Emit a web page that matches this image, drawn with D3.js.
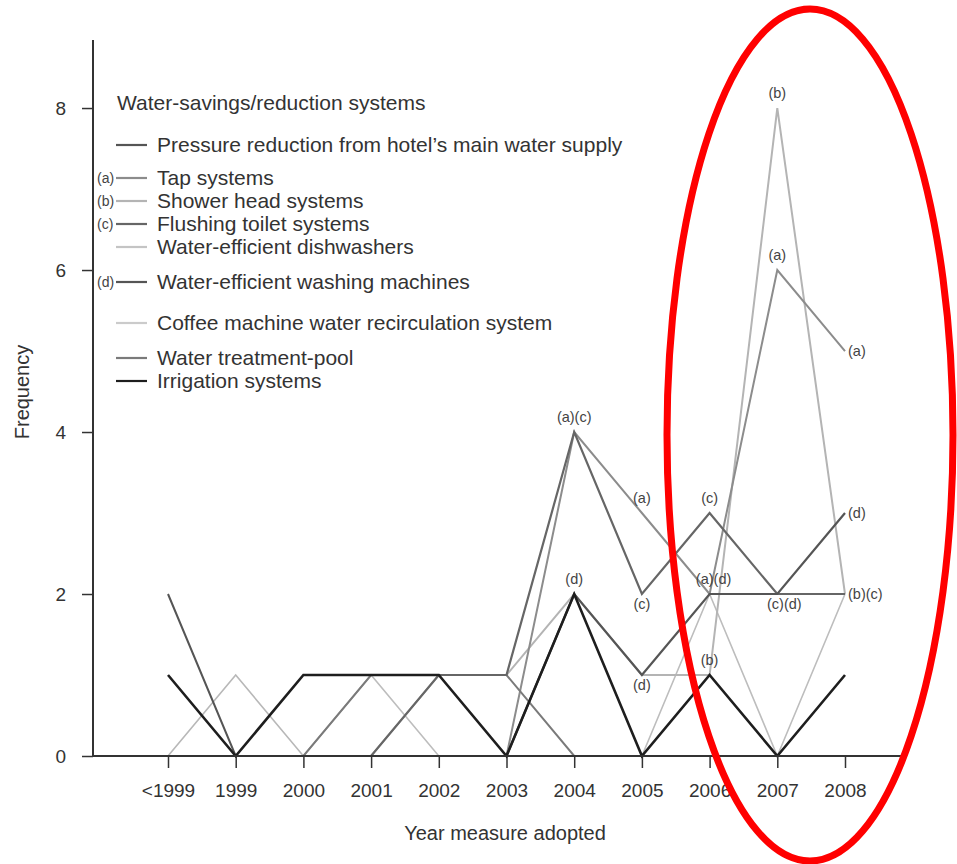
<!DOCTYPE html>
<html>
<head>
<meta charset="utf-8">
<script src="https://cdn.jsdelivr.net/npm/d3@7"></script>
<style>
  body { margin: 0; background: #fff; }
  text { font-family: "Liberation Sans", Arial, sans-serif; }
</style>
</head>
<body>
<div id="viz"></div>
<script>
// categories on the x axis
var years = ["<1999", "1999", "2000", "2001", "2002", "2003", "2004", "2005", "2006", "2007", "2008"];
var yTicks = [0, 2, 4, 6, 8];

// frequency per year, one array per measure
var pressure    = [2, 0, 0, 0, 0, 0, 0, 0, 0, 0, 0];
var tap         = [0, 0, 0, 0, 0, 0, 4, 3, 2, 6, 5];
var shower      = [0, 0, 0, 0, 1, 1, 2, 1, 1, 8, 2];
var flushing    = [0, 0, 0, 0, 1, 1, 4, 2, 3, 2, 2];
var dishwasher  = [0, 0, 0, 1, 0, 0, 0, 0, 2, 0, 2];
var washing     = [0, 0, 0, 0, 0, 0, 2, 1, 2, 2, 3];
var coffee      = [0, 1, 0, 0, 0, 0, 0, 0, 0, 0, 0];
var pool        = [0, 0, 0, 1, 1, 1, 0, 0, 0, 0, 0];
var irrigation  = [1, 0, 1, 1, 1, 0, 2, 0, 1, 0, 1];

var seriesNames = [
  "Pressure reduction from hotel\u2019s main water supply",
  "Tap systems",
  "Shower head systems",
  "Flushing toilet systems",
  "Water-efficient dishwashers",
  "Water-efficient washing machines",
  "Coffee machine water recirculation system",
  "Water treatment-pool",
  "Irrigation systems"
];
var seriesValues = [pressure, tap, shower, flushing, dishwasher, washing, coffee, pool, irrigation];
var seriesTags = ["", "(a)", "(b)", "(c)", "", "(d)", "", "", ""];
var seriesColors = ["#555", "#8c8c8c", "#b4b4b4", "#666", "#c4c4c4", "#555", "#cbcbcb", "#7a7a7a", "#1e1e1e"];
var lineColors = ["#555", "#8c8c8c", "#b4b4b4", "#666", "#bdbdbd", "#555", "#b8b8b8", "#7a7a7a", "#1e1e1e"];
var seriesWidths = [2, 2, 2, 2.2, 1.6, 2.2, 1.6, 2, 2.6];
// extra vertical gap before some legend rows
var legendGap = [0, 10, 0, 0, 0, 12, 18, 12, 0];

// point labels: year, value, text, where to put it
var notes = [
  ["2004", 4, "(a)(c)", "above"],
  ["2004", 2, "(d)", "above"],
  ["2005", 3, "(a)", "above"],
  ["2005", 2, "(c)", "below"],
  ["2005", 1, "(d)", "below"],
  ["2006", 3, "(c)", "above"],
  ["2006", 2, "(a)(d)", "aboveR"],
  ["2006", 1, "(b)", "above"],
  ["2007", 8, "(b)", "above"],
  ["2007", 6, "(a)", "above"],
  ["2007", 2, "(c)(d)", "belowR"],
  ["2008", 5, "(a)", "right"],
  ["2008", 3, "(d)", "right"],
  ["2008", 2, "(b)(c)", "right"]
];

var w = 957, h = 864;

var svg = d3.select("#viz").append("svg")
    .attr("width", w)
    .attr("height", h);

var x = d3.scalePoint()
    .domain(years)
    .range([168, 845]);

var y = d3.scaleLinear()
    .domain([0, 8.84])
    .range([756, 40]);

// y axis
var yAxis = svg.append("g")
    .attr("transform", "translate(93,0)")
    .call(d3.axisLeft(y).tickValues(yTicks).tickSize(11).tickPadding(16));
yAxis.select(".domain").remove();
yAxis.selectAll(".tick line").attr("stroke", "#333").attr("stroke-width", 1.5);
yAxis.selectAll(".tick text")
    .style("font-size", "19px")
    .attr("fill", "#333");

svg.append("line")
    .attr("x1", 93).attr("x2", 93)
    .attr("y1", 40).attr("y2", y(0))
    .attr("stroke", "#333")
    .attr("stroke-width", 2);

// x axis
var xAxis = svg.append("g")
    .attr("transform", "translate(0," + y(0) + ")")
    .call(d3.axisBottom(x).tickSize(12).tickPadding(16));
xAxis.select(".domain").remove();
xAxis.selectAll(".tick line").attr("stroke", "#333").attr("stroke-width", 1.5);
xAxis.selectAll(".tick text")
    .style("font-size", "19px")
    .attr("fill", "#333");

svg.append("text")
    .attr("x", 505)
    .attr("y", 840)
    .attr("text-anchor", "middle")
    .style("font-size", "20px")
    .attr("fill", "#333")
    .text("Year measure adopted");

svg.append("text")
    .attr("transform", "translate(29,392) rotate(-90)")
    .attr("text-anchor", "middle")
    .style("font-size", "20px")
    .attr("fill", "#333")
    .text("Frequency");

// lines
var line = d3.line()
    .x(function(d, i) { return x(years[i]); })
    .y(function(d) { return y(d); });

var order = [6, 4, 2, 1, 7, 0, 3, 5, 8];
order.forEach(function(k) {
  svg.append("path")
      .datum(seriesValues[k])
      .attr("d", line)
      .attr("fill", "none")
      .attr("stroke", lineColors[k])
      .attr("stroke-width", seriesWidths[k])
      .attr("stroke-linejoin", "miter");
});

svg.append("line")
    .attr("x1", 93).attr("x2", 907)
    .attr("y1", y(0)).attr("y2", y(0))
    .attr("stroke", "#333")
    .attr("stroke-width", 2.2);

// point labels
notes.forEach(function(n) {
  var px = x(n[0]), py = y(n[1]);
  var dx = 0, dy = -10, anchor = "middle";
  if (n[3] == "below") { dy = 15; }
  if (n[3] == "belowR") { dx = 7; dy = 15; }
  if (n[3] == "aboveR") { dx = 4; }
  if (n[3] == "right") { dx = 3; dy = 5; anchor = "start"; }
  svg.append("text")
      .attr("x", px + dx)
      .attr("y", py + dy)
      .attr("text-anchor", anchor)
      .style("font-size", "14.5px")
      .attr("fill", "#444")
      .text(n[2]);
});

// legend
svg.append("text")
    .attr("x", 117)
    .attr("y", 110)
    .style("font-size", "21px")
    .attr("fill", "#333")
    .text("Water-savings/reduction systems");

var ly = 145;
seriesNames.forEach(function(name, k) {
  ly += legendGap[k];
  svg.append("line")
      .attr("x1", 116).attr("x2", 147)
      .attr("y1", ly).attr("y2", ly)
      .attr("stroke", seriesColors[k])
      .attr("stroke-width", 2.2);
  svg.append("text")
      .attr("x", 157)
      .attr("y", ly + 7)
      .style("font-size", "21px")
      .attr("fill", "#333")
      .text(name);
  if (seriesTags[k] != "") {
    svg.append("text")
        .attr("x", 97)
        .attr("y", ly + 5)
        .style("font-size", "14px")
        .attr("fill", "#444")
        .text(seriesTags[k]);
  }
  ly += 23;
});

// red highlight round the last years
svg.append("ellipse")
    .attr("cx", 810)
    .attr("cy", 435)
    .attr("rx", 143)
    .attr("ry", 426)
    .attr("fill", "none")
    .attr("stroke", "#f00")
    .attr("stroke-width", 7);
</script>
</body>
</html>
